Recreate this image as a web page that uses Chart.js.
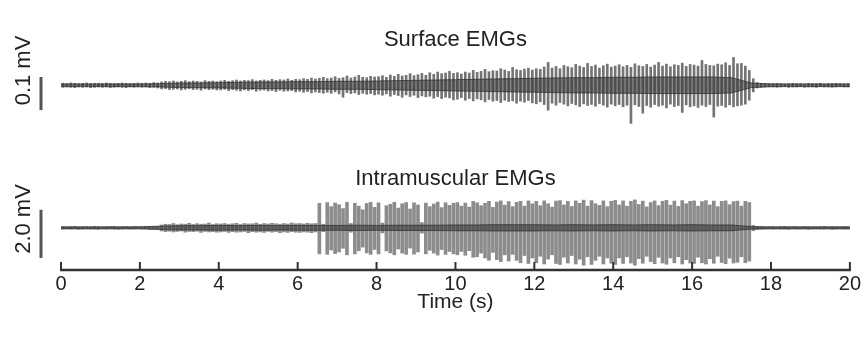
<!DOCTYPE html>
<html><head><meta charset="utf-8">
<script src="https://cdn.jsdelivr.net/npm/chart.js@4"></script>
<style>html,body{margin:0;padding:0;background:#fff}#wrap{width:865px;height:338px}</style>
</head><body><div id="wrap"><canvas id="c" width="865" height="338"></canvas></div>
<script>
// ---- data ----
const BIN = 0.1;            // s, width of one amplitude bin
const CORE_STEP = 0.5;      // s, spacing of the dense-core envelope points
const xTicks = [0,2,4,6,8,10,12,14,16,18,20];
const xTitle = 'Time (s)';
const panelTitles = ['Surface EMGs', 'Intramuscular EMGs'];
const scaleLabels = ['0.1 mV', '2.0 mV'];
const sScaleBar = [25, -75];     // µV  (100 µV = 0.1 mV)
const iScaleBar = [0.75, -1.25]; // mV  (2.0 mV)

// Surface EMG, per 0.1 s bin, extreme values (µV)
const sHi = [
 6,5,7,6,5,6,7,5,6,6,5,7,6,5,6,7,6,5,6,7,
 6,7,6,8,7,10,12,11,13,10,12,14,11,13,12,10,14,12,13,11,
 13,15,12,14,16,13,15,14,17,13,15,16,14,18,15,17,16,19,15,18,
 17,20,18,22,19,21,24,20,22,26,21,23,28,22,25,30,24,23,27,25,
 26,29,24,31,27,33,28,30,35,29,32,36,30,38,33,40,35,37,42,36,
 38,34,40,37,45,39,42,48,41,44,43,50,46,42,54,47,45,49,52,46,
 50,48,55,69,52,57,50,60,56,53,63,58,54,66,57,61,52,59,64,55,
 58,62,56,60,54,65,59,57,63,55,61,69,58,64,56,62,60,67,57,63,
 61,58,75,63,60,59,64,62,68,60,84,65,66,58,45,20,8,6,5,5,
 5,6,5,4,5,6,5,5,4,6,5,5,6,4,5,5,6,5,4,5];
const sLo = [
 -6,-5,-6,-7,-5,-6,-5,-7,-6,-5,-6,-5,-7,-6,-5,-6,-7,-5,-6,-5,
 -6,-5,-7,-6,-8,-11,-10,-13,-12,-11,-14,-12,-10,-13,-12,-15,-11,-13,-12,-14,
 -14,-12,-16,-13,-15,-17,-14,-16,-13,-18,-15,-14,-17,-16,-19,-15,-18,-17,-16,-20,
 -18,-21,-19,-23,-20,-22,-24,-21,-24,-20,-26,-36,-22,-25,-23,-28,-24,-27,-25,-29,
 -27,-30,-26,-33,-28,-31,-36,-29,-34,-30,-37,-32,-35,-33,-39,-34,-40,-36,-38,-44,
 -42,-37,-45,-40,-47,-41,-44,-50,-43,-48,-46,-52,-45,-49,-47,-54,-48,-51,-46,-53,
 -56,-50,-58,-75,-54,-60,-52,-57,-62,-55,-59,-64,-56,-61,-58,-63,-55,-60,-66,-57,
 -62,-58,-65,-60,-115,-59,-64,-84,-61,-66,-58,-63,-60,-68,-57,-64,-61,-82,-59,-65,
 -62,-67,-60,-64,-58,-96,-63,-61,-66,-59,-65,-62,-60,-57,-45,-20,-8,-6,-5,-5,
 -5,-6,-5,-4,-6,-5,-5,-4,-6,-5,-5,-6,-4,-5,-5,-6,-5,-4,-5,-5];
// Surface dense core, every 0.5 s (µV)
const sCoreHi = [4,4,4,4,4,5,7,7,8,9,10,10,11,11,12,12,13,14,15,16,17,18,19,20,21,22,23,23,24,24,25,25,25,25,23,7,4,4,4,4,4];
const sCoreLo = [-4,-4,-4,-4,-4,-5,-7,-7,-8,-9,-10,-10,-11,-11,-12,-12,-13,-14,-15,-16,-17,-18,-19,-20,-21,-22,-23,-23,-24,-24,-25,-25,-25,-25,-23,-7,-4,-4,-4,-4,-4];

// Intramuscular EMG, per 0.1 s bin, extreme values (mV)
const iHi = [
 .05,.04,.05,.06,.04,.05,.05,.04,.06,.05,.04,.05,.05,.06,.04,.05,.05,.04,.06,.05,
 .05,.06,.04,.05,.06,.12,.15,.14,.18,.13,.16,.15,.19,.14,.17,.15,.16,.20,.14,.17,
 .16,.18,.15,.17,.19,.14,.18,.16,.17,.20,.15,.18,.16,.19,.17,.15,.18,.16,.20,.17,
 .18,.16,.19,.17,.18,1.02,.15,1.05,.88,1.03,.96,.80,1.06,.18,1.02,.90,.75,1.01,1.06,.85,
 1.04,.20,.92,.98,1.06,.82,1.00,1.05,.78,1.04,.95,.22,1.03,.88,.99,1.07,.84,1.04,.93,1.02,
 1.05,.90,1.03,.86,1.10,1.04,.92,1.02,1.10,.85,1.07,1.12,.94,1.09,.88,1.06,1.10,.90,1.12,1.00,
 1.10,.92,1.12,1.00,.86,1.11,1.13,.95,1.10,.89,1.12,1.02,1.15,.90,1.13,1.00,.93,1.12,.88,1.10,
 1.14,.95,1.12,.90,1.10,1.16,.97,1.11,.87,1.05,1.12,.92,1.10,1.14,.94,1.11,.89,1.13,1.00,1.10,
 1.12,.90,1.09,1.13,.95,1.11,.88,1.10,1.12,.96,1.09,1.11,.90,1.10,1.05,.10,.06,.05,.04,.05,
 .05,.04,.05,.06,.04,.05,.05,.04,.06,.05,.04,.05,.05,.06,.04,.05,.05,.04,.06,.05];
const iLo = [
 -.05,-.04,-.05,-.04,-.06,-.05,-.04,-.05,-.05,-.06,-.04,-.05,-.04,-.05,-.06,-.05,-.04,-.05,-.05,-.04,
 -.05,-.04,-.06,-.05,-.05,-.13,-.16,-.14,-.17,-.15,-.13,-.18,-.15,-.16,-.14,-.19,-.15,-.17,-.16,-.18,
 -.17,-.15,-.19,-.16,-.18,-.17,-.15,-.20,-.16,-.18,-.17,-.19,-.15,-.18,-.16,-.20,-.17,-.19,-.16,-.18,
 -.19,-.17,-.18,-.20,-.17,-1.08,-.16,-1.10,-.92,-1.07,-1.00,-.85,-1.12,-.18,-1.08,-.95,-.80,-1.04,-1.10,-.90,
 -1.08,-.21,-.96,-1.04,-1.12,-.88,-1.05,-1.10,-.84,-1.09,-1.00,-.22,-1.08,-.93,-1.05,-1.13,-.90,-1.10,-.98,-1.08,
 -1.12,-.98,-1.14,-.95,-1.22,-1.20,-1.05,-1.25,-1.35,-1.02,-1.32,-1.40,-1.12,-1.38,-1.10,-1.35,-1.45,-1.15,-1.48,-1.25,
 -1.45,-1.18,-1.50,-1.30,-1.12,-1.48,-1.52,-1.22,-1.46,-1.15,-1.50,-1.30,-1.55,-1.20,-1.52,-1.35,-1.18,-1.50,-1.25,-1.47,
 -1.52,-1.25,-1.48,-1.20,-1.46,-1.55,-1.28,-1.47,-1.18,-1.40,-1.49,-1.22,-1.46,-1.51,-1.25,-1.45,-1.20,-1.50,-1.32,-1.46,
 -1.48,-1.22,-1.45,-1.50,-1.28,-1.47,-1.18,-1.44,-1.49,-1.26,-1.46,-1.43,-1.20,-1.45,-1.38,-.12,-.07,-.05,-.05,-.04,
 -.05,-.04,-.05,-.05,-.06,-.04,-.05,-.05,-.04,-.06,-.05,-.04,-.05,-.05,-.04,-.06,-.05,-.04,-.05,-.05];
// Intramuscular dense core, every 0.5 s (mV)
const iCoreHi = [.04,.04,.04,.04,.04,.07,.09,.09,.10,.09,.10,.09,.10,.10,.10,.11,.10,.11,.11,.11,.12,.12,.13,.13,.13,.12,.13,.12,.13,.12,.13,.12,.13,.12,.12,.05,.04,.04,.04,.04,.04];
const iCoreLo = [-.04,-.04,-.04,-.04,-.04,-.07,-.09,-.09,-.10,-.09,-.10,-.09,-.10,-.10,-.10,-.11,-.10,-.11,-.11,-.11,-.12,-.12,-.13,-.13,-.13,-.12,-.13,-.12,-.13,-.12,-.13,-.12,-.13,-.12,-.12,-.05,-.04,-.04,-.04,-.04,-.04];

// ---- build datasets ----
const binPts = (hi, lo) => hi.map((h, i) => ({x: +(i * BIN + BIN / 2).toFixed(3), y: [lo[i], h]}));
const corePts = arr => arr.map((v, i) => ({x: i * CORE_STEP, y: v}));
const FONT = '"Liberation Sans", Arial, Helvetica, sans-serif';
Chart.defaults.font.family = FONT;

const overlay = {
  id: 'overlay',
  afterDraw(chart) {
    const {ctx, chartArea: a, scales: {x, yS, yI}} = chart;
    ctx.save();
    // axis line with upward ticks
    ctx.strokeStyle = '#333'; ctx.lineWidth = 2.5; ctx.lineCap = 'butt';
    ctx.beginPath();
    ctx.moveTo(x.getPixelForValue(xTicks[0]) - 1, a.bottom);
    ctx.lineTo(x.getPixelForValue(xTicks[xTicks.length - 1]) + 1, a.bottom);
    ctx.stroke();
    ctx.lineWidth = 2;
    xTicks.forEach(v => {
      const px = x.getPixelForValue(v);
      ctx.beginPath(); ctx.moveTo(px, a.bottom); ctx.lineTo(px, a.bottom - 8); ctx.stroke();
    });
    // scale bars
    ctx.strokeStyle = '#555'; ctx.lineWidth = 3;
    ctx.beginPath(); ctx.moveTo(41, yS.getPixelForValue(sScaleBar[0])); ctx.lineTo(41, yS.getPixelForValue(sScaleBar[1])); ctx.stroke();
    ctx.beginPath(); ctx.moveTo(41, yI.getPixelForValue(iScaleBar[0])); ctx.lineTo(41, yI.getPixelForValue(iScaleBar[1])); ctx.stroke();
    // rotated scale labels
    ctx.fillStyle = '#222'; ctx.font = '22px ' + FONT; ctx.textAlign = 'center'; ctx.textBaseline = 'alphabetic';
    [[scaleLabels[0], 70.5], [scaleLabels[1], 219]].forEach(([t, cy]) => {
      ctx.save(); ctx.translate(30, cy); ctx.rotate(-Math.PI / 2); ctx.fillText(t, 0, 0); ctx.restore();
    });
    // panel titles
    const cx = (a.left + a.right) / 2;
    ctx.fillText(panelTitles[0], cx, 46);
    ctx.fillText(panelTitles[1], cx, 185);
    // x-axis title
    ctx.font = '21px ' + FONT;
    ctx.fillText(xTitle, cx, a.bottom + 38);
    ctx.restore();
  }
};

new Chart(document.getElementById('c'), {
  type: 'bar',
  data: {
    datasets: [
      {type: 'bar', data: binPts(sHi, sLo), yAxisID: 'yS', backgroundColor: 'rgba(70,70,70,0.75)', barThickness: 2, grouped: false, order: 3},
      {type: 'line', data: corePts(sCoreHi), yAxisID: 'yS', borderColor: 'rgba(50,50,50,0.8)', borderWidth: 1, pointRadius: 0, fill: false, order: 1},
      {type: 'line', data: corePts(sCoreLo), yAxisID: 'yS', borderColor: 'rgba(50,50,50,0.8)', borderWidth: 1, pointRadius: 0, fill: '-1', backgroundColor: 'rgba(55,55,55,0.6)', order: 1},
      {type: 'bar', data: binPts(iHi, iLo), yAxisID: 'yI', backgroundColor: 'rgba(85,85,85,0.68)', barThickness: 3, grouped: false, order: 3},
      {type: 'line', data: corePts(iCoreHi), yAxisID: 'yI', borderColor: 'rgba(50,50,50,0.8)', borderWidth: 1, pointRadius: 0, fill: false, order: 1},
      {type: 'line', data: corePts(iCoreLo), yAxisID: 'yI', borderColor: 'rgba(50,50,50,0.8)', borderWidth: 1, pointRadius: 0, fill: '-1', backgroundColor: 'rgba(55,55,55,0.6)', order: 1}
    ]
  },
  options: {
    responsive: false,
    animation: false,
    layout: {padding: {left: 61, right: 15, top: 10, bottom: 40}},
    plugins: {legend: {display: false}, tooltip: {enabled: false}},
    scales: {
      x: {
        type: 'linear', offset: false, min: xTicks[0], max: xTicks[xTicks.length - 1],
        grid: {display: false, drawTicks: false}, border: {display: false},
        afterBuildTicks: s => { s.ticks = xTicks.map(v => ({value: v})); },
        ticks: {padding: 4, color: '#222', font: {size: 20, lineHeight: 1}, maxRotation: 0, autoSkip: false},
        title: {display: false}
      },
      yS: {type: 'linear', display: false, min: -557.6, max: 227.3},
      yI: {type: 'linear', display: false, min: -1.75, max: 9.042}
    }
  },
  plugins: [overlay]
});
</script>
</body></html>
